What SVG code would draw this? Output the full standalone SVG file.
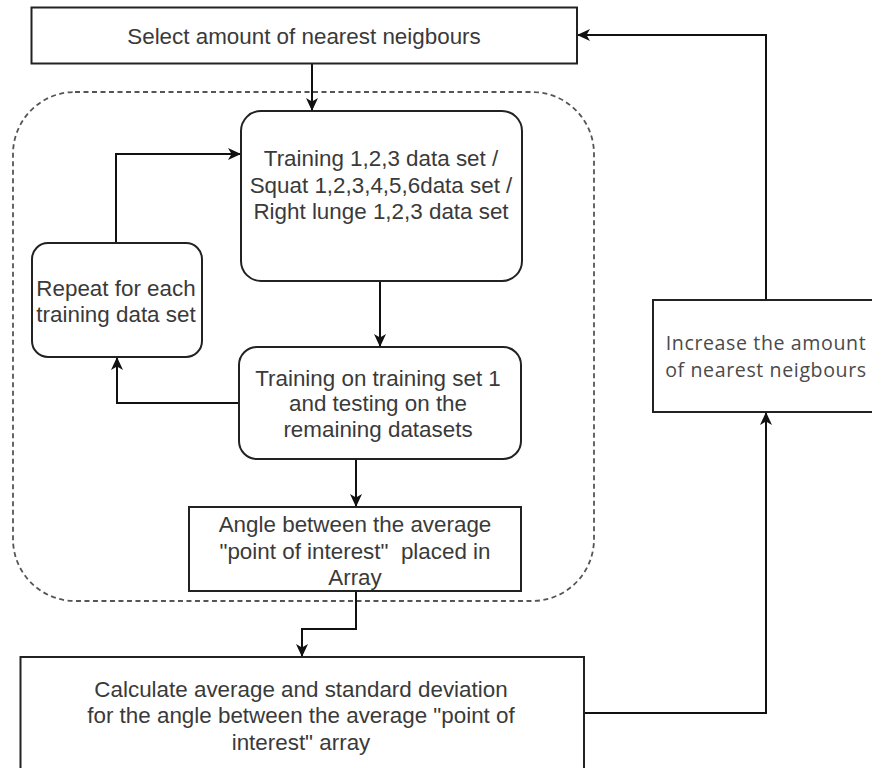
<svg xmlns="http://www.w3.org/2000/svg" width="872" height="768" viewBox="0 0 872 768">
  <defs>
    <marker id="arrow" markerUnits="userSpaceOnUse" markerWidth="14" markerHeight="12" viewBox="0 0 14 12" refX="13" refY="6" orient="auto">
      <path d="M0,0 L13,6 L0,12 L3.5,6 Z" fill="#111"/>
    </marker>
    <style>
      .box { fill: #fff; stroke: #222; stroke-width: 2; }
      .group { fill: none; stroke: #555; stroke-width: 1.8; stroke-dasharray: 5 3.5; }
      .edge { fill: none; stroke: #111; stroke-width: 2; }
      .lbl { font-family: "Liberation Sans", Arial, sans-serif; font-size: 22.4px; fill: #3a3a3a; text-anchor: middle; white-space: pre; }
      .lbl2 { font-family: "Open Sans", "Noto Sans", sans-serif; font-size: 19.6px; letter-spacing: 0.6px; fill: #4a4a4a; text-anchor: middle; }
    </style>
  </defs>

  <rect width="872" height="768" fill="#fff"/>

  <!-- dashed loop container -->
  <rect id="loop-group" class="group" x="13" y="92" width="581" height="509" rx="62" ry="62"/>

  <!-- connectors -->
  <g id="connectors">
    <path class="edge" d="M312,64 V111" marker-end="url(#arrow)"/>
    <path class="edge" d="M380,281 V347" marker-end="url(#arrow)"/>
    <path class="edge" d="M239,403 H117 V357" marker-end="url(#arrow)"/>
    <path class="edge" d="M116,243 V154 H241" marker-end="url(#arrow)"/>
    <path class="edge" d="M356,459 V507" marker-end="url(#arrow)"/>
    <path class="edge" d="M356,591 V629 H302 V657" marker-end="url(#arrow)"/>
    <path class="edge" d="M584,713 H766 V412" marker-end="url(#arrow)"/>
    <path class="edge" d="M766,300 V35 H577" marker-end="url(#arrow)"/>
  </g>

  <g id="select-k">
    <rect class="box" x="31.5" y="7.5" width="545.5" height="56"/>
    <text class="lbl" x="304" y="44">Select amount of nearest neigbours</text>
  </g>

  <g id="datasets">
    <rect class="box" x="241" y="111" width="281" height="170" rx="20" ry="20"/>
    <text class="lbl" x="381" y="166">Training 1,2,3 data set /</text>
    <text class="lbl" x="381" y="193">Squat 1,2,3,4,5,6data set /</text>
    <text class="lbl" x="381" y="219">Right lunge 1,2,3 data set</text>
  </g>

  <g id="repeat">
    <rect class="box" x="32" y="243" width="170" height="114" rx="16" ry="16"/>
    <text class="lbl" x="116" y="296">Repeat for each</text>
    <text class="lbl" x="116" y="322">training data set</text>
  </g>

  <g id="train-test">
    <rect class="box" x="239" y="347" width="282" height="112" rx="18" ry="18"/>
    <text class="lbl" x="378" y="386">Training on training set 1</text>
    <text class="lbl" x="378" y="411">and testing on the</text>
    <text class="lbl" x="378" y="437">remaining datasets</text>
  </g>

  <g id="angle-array">
    <rect class="box" x="189" y="507" width="332" height="84"/>
    <text class="lbl" x="355" y="532">Angle between the average</text>
    <text class="lbl" x="355" y="559" xml:space="preserve">"point of interest"  placed in</text>
    <text class="lbl" x="355" y="585">Array</text>
  </g>

  <g id="statistics">
    <rect class="box" x="20.5" y="657" width="563.5" height="130"/>
    <text class="lbl" x="301" y="697">Calculate average and standard deviation</text>
    <text class="lbl" x="301" y="723">for the angle between the average "point of</text>
    <text class="lbl" x="301" y="750">interest" array</text>
  </g>

  <g id="increase-k">
    <rect class="box" x="653" y="300" width="226" height="112"/>
    <text class="lbl2" x="766" y="350">Increase the amount</text>
    <text class="lbl2" x="766" y="377">of nearest neigbours</text>
  </g>
</svg>
